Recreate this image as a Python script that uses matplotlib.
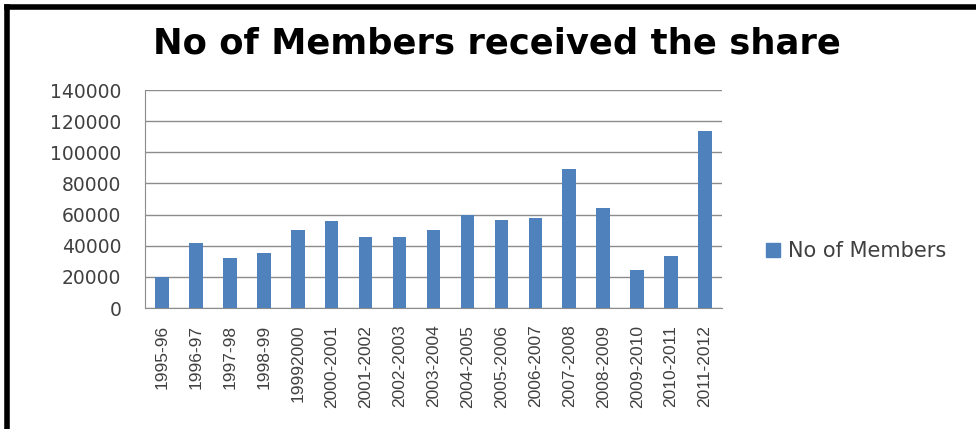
import matplotlib
matplotlib.use('Agg')
import numpy as np
import matplotlib.pyplot as plt
from matplotlib.lines import Line2D

# data
years = ['1995-96', '1996-97', '1997-98', '1998-99', '19992000', '2000-2001',
         '2001-2002', '2002-2003', '2003-2004', '2004-2005', '2005-2006',
         '2006-2007', '2007-2008', '2008-2009', '2009-2010', '2010-2011',
         '2011-2012']
members = [19800, 41800, 31900, 35200, 50400, 55700, 45700, 45700, 50400,
           59600, 56600, 57900, 89400, 63900, 24200, 33200, 113600]

bar_color = '#4F81BD'
text_color = '#404040'


def main():
    fig = plt.figure(figsize=(9.76, 4.29), dpi=100)
    ax = fig.add_axes([145 / 976, 1 - 308 / 429, 577 / 976, 218 / 429])

    x = np.arange(len(years))
    ax.bar(x, members, width=0.4, color=bar_color, label='No of Members', zorder=3)

    ax.set_xlim(-0.5, len(years) - 0.5)
    ax.set_ylim(0, 140000)
    ax.set_yticks(np.arange(0, 140001, 20000))
    ax.set_yticklabels([str(v) for v in range(0, 140001, 20000)],
                       fontsize=13.5, color=text_color, family='DejaVu Sans')
    ax.set_xticks(x)
    ax.set_xticklabels(years, rotation=90, fontsize=12.5, color=text_color,
                       family='Liberation Sans')
    ax.tick_params(axis='x', length=0, pad=12)
    ax.tick_params(axis='y', length=0, pad=17)

    ax.grid(axis='y', color='#8C8C8C', linewidth=1, zorder=0)
    for s in ['top', 'right']:
        ax.spines[s].set_visible(False)
    ax.spines['left'].set_color('#8C8C8C')
    ax.spines['bottom'].set_color('#8C8C8C')

    fig.text(497 / 976, 1 - 44 / 429, 'No of Members received the share',
             ha='center', va='center', fontsize=25.5, fontweight='bold',
             family='DejaVu Sans', color='black')

    handle = Line2D([], [], marker='s', linestyle='none', markersize=10,
                    color=bar_color)
    fig.legend([handle], ['No of Members'], loc='center left',
               bbox_to_anchor=(744 / 976, 1 - 251 / 429), frameon=False,
               handletextpad=0.2, handlelength=1.0,
               labelcolor=text_color, prop={'family': 'DejaVu Sans', 'size': 15})

    # black frame on the left and top edges
    fig.add_artist(Line2D([7 / 976, 7 / 976], [0, 1 - 7 / 429], color='black',
                          linewidth=4, transform=fig.transFigure))
    fig.add_artist(Line2D([7 / 976, 1], [1 - 7 / 429, 1 - 7 / 429],
                          color='black', linewidth=4, transform=fig.transFigure))

    fig.savefig('out.png', dpi=100)


if __name__ == '__main__':
    main()
